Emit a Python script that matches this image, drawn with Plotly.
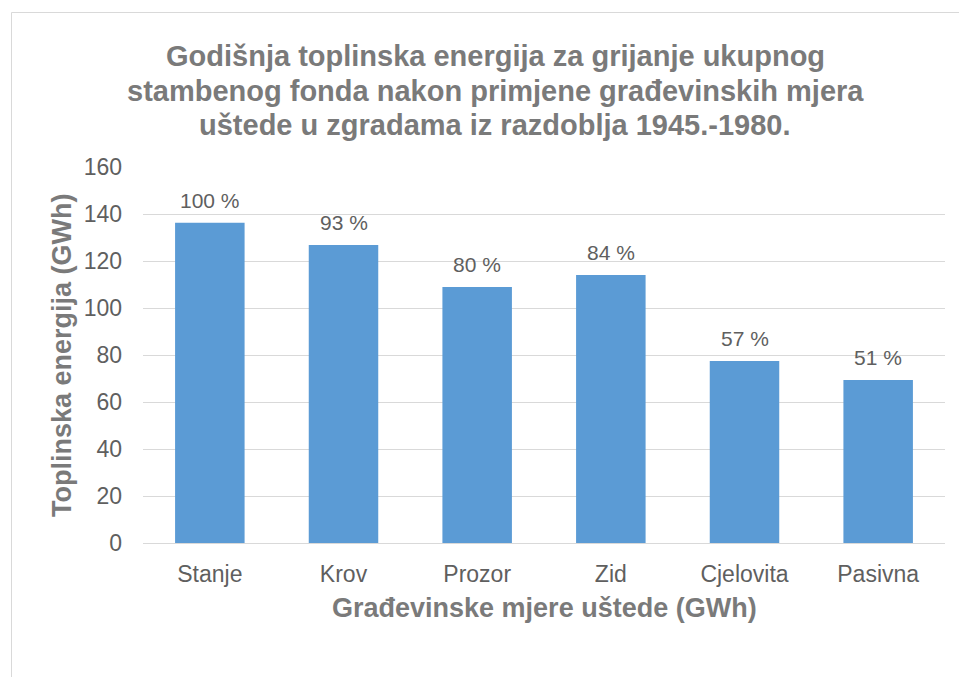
import plotly.graph_objects as go

categories = ["Stanje", "Krov", "Prozor", "Zid", "Cjelovita", "Pasivna"]
energy_gwh = [136.3, 126.8, 108.9, 114.0, 77.4, 69.4]
share_labels = ["100 %", "93 %", "80 %", "84 %", "57 %", "51 %"]
y_ticks = [0, 20, 40, 60, 80, 100, 120, 140, 160]

title_lines = ["Godišnja toplinska energija za grijanje ukupnog",
               "stambenog fonda nakon primjene građevinskih mjera",
               "uštede u zgradama iz razdoblja 1945.-1980."]
x_title = "Građevinske mjere uštede (GWh)"
y_title = "Toplinska energija (GWh)"

W, H = 959, 677
L, R, T, B = 143, 14, 167, 134
pw, ph = W - L - R, H - T - B


def px_x(px):
    return (px - L) / pw


def px_y(py):
    return (543 - py) / ph


FONT = "Liberation Sans, Arial, sans-serif"
TITLE_C = "#7a7a7a"
TEXT_C = "#5f5f5f"

fig = go.Figure()
fig.add_trace(go.Bar(
    x=categories, y=energy_gwh,
    marker=dict(color="#5B9BD5", line=dict(width=0)),
    hoverinfo="skip",
))

annotations = []
for c, v, s in zip(categories, energy_gwh, share_labels):
    annotations.append(dict(x=c, y=v, xref="x", yref="y", text=s, showarrow=False,
                            yanchor="bottom", yshift=9,
                            font=dict(family=FONT, size=21, color=TEXT_C)))
for i, line in enumerate(title_lines):
    cy = [56, 91, 125][i]
    annotations.append(dict(x=px_x(495), y=px_y(cy), xref="paper", yref="paper",
                            text="<b>" + line + "</b>", showarrow=False,
                            xanchor="center", yanchor="middle",
                            font=dict(family=FONT, size=29, color=TITLE_C)))
annotations.append(dict(x=0.5, y=px_y(608), xref="paper", yref="paper",
                        text="<b>" + x_title + "</b>", showarrow=False,
                        xanchor="center", yanchor="middle",
                        font=dict(family=FONT, size=27, color=TITLE_C)))
annotations.append(dict(x=px_x(62), y=0.5, xref="paper", yref="paper",
                        text="<b>" + y_title + "</b>", showarrow=False, textangle=-90,
                        xanchor="center", yanchor="middle",
                        font=dict(family=FONT, size=27, color=TITLE_C)))

fig.update_layout(
    width=W, height=H,
    margin=dict(l=L, r=R, t=T, b=B, pad=0),
    paper_bgcolor="white", plot_bgcolor="white",
    showlegend=False,
    bargap=0.48,
    annotations=annotations,
    shapes=[dict(type="rect", xref="paper", yref="paper",
                 x0=px_x(11.5), x1=px_x(W + 5),
                 y0=px_y(H + 5), y1=px_y(12.5),
                 line=dict(color="#D9D9D9", width=1), fillcolor="rgba(0,0,0,0)",
                 layer="below")],
    xaxis=dict(showgrid=False, showline=True, linecolor="#D9D9D9", linewidth=1,
               ticks="", tickfont=dict(family=FONT, size=23, color=TEXT_C),
               ticklabelstandoff=10, fixedrange=True),
    yaxis=dict(range=[0, 160], tickvals=y_ticks, showgrid=True, gridcolor="#D9D9D9",
               gridwidth=1, zeroline=False, showline=False, ticks="",
               tickfont=dict(family=FONT, size=23, color=TEXT_C),
               ticklabelstandoff=20, fixedrange=True),
)

fig.write_html("out.html", config={"displayModeBar": False},
               post_script="document.body.style.margin='0';document.body.style.overflow='hidden';")
